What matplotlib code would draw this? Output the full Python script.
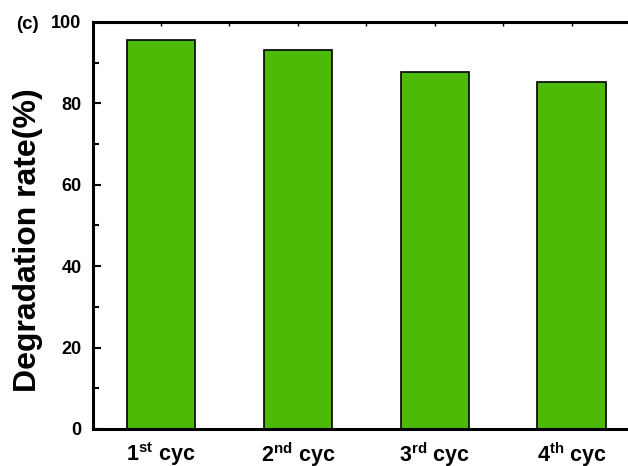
import numpy as np
import matplotlib
matplotlib.use('Agg')
import matplotlib.pyplot as plt
from matplotlib.ticker import MultipleLocator

# data
cycles = ['1$^{st}$ cyc', '2$^{nd}$ cyc', '3$^{rd}$ cyc', '4$^{th}$ cyc']
rates = [95.6, 93.1, 87.7, 85.3]

plt.rcParams['font.family'] = ['Liberation Sans', 'DejaVu Sans']
plt.rcParams['font.weight'] = 'bold'
plt.rcParams['mathtext.fontset'] = 'custom'
plt.rcParams['mathtext.rm'] = 'Liberation Sans:bold'
plt.rcParams['mathtext.it'] = 'Liberation Sans:bold'
plt.rcParams['mathtext.bf'] = 'Liberation Sans:bold'

fig = plt.figure(figsize=(6.28, 4.66), dpi=100)
# axes runs past the right edge of the figure (reference is cropped there)
ax = fig.add_axes([0.1475, 0.0794, 0.8717, 0.8734])

x = np.arange(1, len(rates) + 1)
ax.bar(x, rates, width=0.5, color='#4cba06', edgecolor='black', linewidth=1.2, zorder=2)

ax.set_xlim(0.5, 4.5)
ax.set_ylim(0, 100)
ax.set_xticks(x)
ax.set_xticklabels(cycles, fontsize=15.5, fontweight='bold')
ax.yaxis.set_major_locator(MultipleLocator(20))
ax.yaxis.set_minor_locator(MultipleLocator(10))
ax.xaxis.set_minor_locator(MultipleLocator(0.5))

for s in ax.spines.values():
    s.set_linewidth(2.2)

ax.tick_params(axis='y', which='major', direction='in', length=6, width=1.5,
               labelsize=13, pad=8)
ax.tick_params(axis='y', which='minor', direction='in', length=4, width=1.5)
ax.tick_params(axis='x', which='both', direction='in', top=True, bottom=False,
               length=3, width=1, pad=8)
ax.tick_params(axis='x', which='minor', top=True, bottom=False)
for lab in ax.get_yticklabels():
    lab.set_fontweight('bold')

ax.set_ylabel('Degradation rate(%)', fontsize=23, fontweight='bold')
ax.yaxis.set_label_coords(-0.091, 0.464)

fig.text(0.026, 0.948, '(c)', fontsize=13.5, fontweight='bold', va='center')

fig.savefig('out.png', dpi=100)
